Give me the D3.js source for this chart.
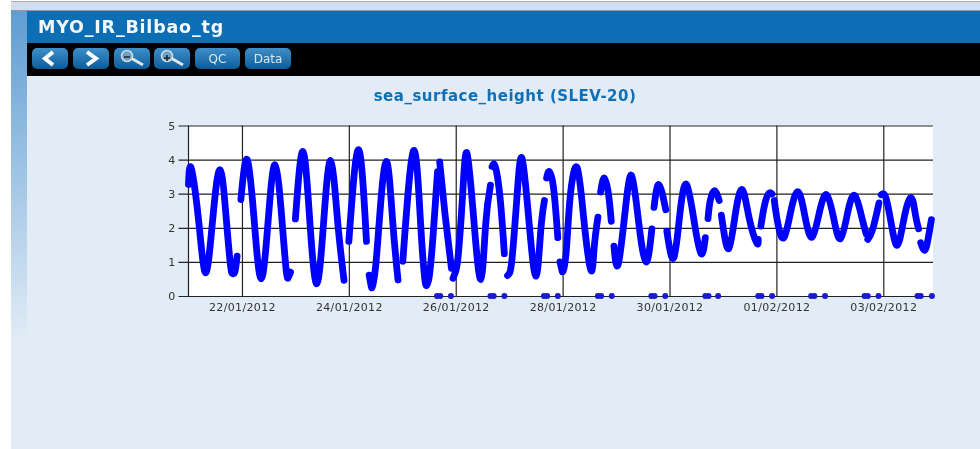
<!DOCTYPE html>
<html>
<head>
<meta charset="utf-8">
<script src="https://d3js.org/d3.v7.min.js"></script>
<style>
  html, body { margin: 0; padding: 0; background: #fff; overflow: hidden; }
  svg { display: block; filter: blur(0.35px); }
  text { font-family: "DejaVu Sans", sans-serif; }
</style>
</head>
<body>
<svg id="page" width="980" height="449"></svg>
<script>
// station and chart text
const stationName = "MYO_IR_Bilbao_tg";
const chartTitle = "sea_surface_height (SLEV-20)";
const buttonLabels = ["<", ">", "-", "+", "QC", "Data"];

// days since 21/01/2012 00:00, one array per unbroken piece of the record
const tideDays = [
  [0.0, 0.05, 0.19, 0.32, 0.45, 0.59, 0.71, 0.79, 0.83, 0.87, 0.91],
  [0.98, 1.10, 1.23, 1.36, 1.49, 1.62, 1.75, 1.83, 1.87, 1.91],
  [2.0, 2.14, 2.27, 2.40, 2.53, 2.66, 2.79, 2.91],
  [3.0, 3.18, 3.33],
  [3.38, 3.41, 3.44, 3.5, 3.57, 3.70, 3.82, 3.92],
  [4.01, 4.21, 4.34, 4.42, 4.46, 4.51, 4.58, 4.66],
  [4.70, 4.80, 4.92],
  [4.95, 5.0, 5.05, 5.13, 5.21, 5.34, 5.47, 5.56, 5.65],
  [5.68, 5.74, 5.83, 5.91],
  [5.97, 6.01, 6.06, 6.15, 6.24, 6.37, 6.5, 6.59, 6.66],
  [6.70, 6.75, 6.83, 6.91],
  [6.95, 6.98, 7.01, 7.07, 7.14, 7.27, 7.4, 7.53, 7.59, 7.66],
  [7.71, 7.78, 7.86, 7.91],
  [7.96, 8.04, 8.17, 8.29, 8.42, 8.56, 8.67],
  [8.71, 8.80, 8.93],
  [8.95, 9.08, 9.2, 9.32, 9.46, 9.59, 9.67],
  [9.72, 9.76, 9.84, 9.93],
  [9.97, 10.01, 10.11, 10.23, 10.36, 10.49, 10.63, 10.66],
  [10.71, 10.78, 10.86, 10.92],
  [10.96, 11.03, 11.14, 11.27, 11.41, 11.54, 11.67, 11.81, 11.94, 12.07, 12.2, 12.34, 12.47, 12.6, 12.68],
  [12.71, 12.8, 12.92],
  [12.96, 13.04, 13.14, 13.26, 13.39, 13.52, 13.6, 13.66],
  [13.7, 13.77, 13.83, 13.9]
];
const tideLevels = [
  [3.27, 3.75, 2.2, 0.68, 2.2, 3.70, 2.2, 0.85, 0.65, 0.72, 1.17],
  [2.83, 4.0, 2.2, 0.5, 2.2, 3.85, 2.2, 0.72, 0.55, 0.7],
  [2.26, 4.24, 2.2, 0.36, 2.2, 3.97, 2.2, 0.46],
  [1.6, 4.29, 1.6],
  [0.61, 0.35, 0.27, 0.85, 2.2, 3.95, 2.2, 0.47],
  [1.02, 4.26, 2.2, 0.52, 0.32, 0.63, 1.85, 3.65],
  [3.93, 2.39, 0.81],
  [0.52, 0.73, 1.25, 3.0, 4.19, 2.2, 0.49, 2.1, 3.25],
  [3.8, 3.8, 2.88, 1.24],
  [0.6, 0.68, 1.2, 3.0, 4.04, 2.2, 0.58, 1.9, 2.8],
  [3.46, 3.65, 3.17, 1.71],
  [1.0, 0.8, 0.73, 1.35, 2.88, 3.77, 2.2, 0.75, 1.41, 2.31],
  [3.05, 3.46, 2.97, 2.19],
  [1.46, 0.93, 2.49, 3.54, 2.2, 1.0, 1.97],
  [2.6, 3.27, 2.53],
  [1.9, 1.12, 2.49, 3.27, 2.2, 1.24, 1.71],
  [2.27, 2.78, 3.09, 2.8],
  [2.37, 1.95, 1.39, 2.39, 3.12, 2.29, 1.56, 1.66],
  [2.05, 2.68, 3.01, 2.99],
  [2.8, 2.1, 1.71, 2.49, 3.05, 2.29, 1.73, 2.49, 2.97, 2.29, 1.68, 2.49, 2.94, 2.29, 1.82],
  [1.66, 1.95, 2.73],
  [2.97, 2.92, 2.2, 1.49, 2.29, 2.89, 2.39, 1.97],
  [1.56, 1.34, 1.61, 2.24]
];
// samples sitting on zero (the gaps in the curve above)
const zeroDays = [4.65, 4.71, 4.91, 5.65, 5.71, 5.91, 6.65, 6.71, 6.91, 7.66, 7.72, 7.92,
  8.66, 8.72, 8.92, 9.67, 9.73, 9.91, 10.66, 10.72, 10.92, 11.65, 11.71, 11.91,
  12.65, 12.71, 12.91, 13.64, 13.70, 13.91];

const yTicks = [0, 1, 2, 3, 4, 5];
const xTickDays = [1, 3, 5, 7, 9, 11, 13];
const domainDays = [0, 13.93];

const startTime = Date.UTC(2012, 0, 21);
const toDate = d => new Date(startTime + d * 864e5);

const svg = d3.select("#page");
const defs = svg.append("defs");

const sideGrad = defs.append("linearGradient").attr("id", "sideGrad")
  .attr("x1", 0).attr("x2", 0).attr("y1", 0).attr("y2", 1);
sideGrad.append("stop").attr("offset", "0%").attr("stop-color", "#5f9dd2");
sideGrad.append("stop").attr("offset", "100%").attr("stop-color", "#e2ecf6");

const btnGrad = defs.append("linearGradient").attr("id", "btnGrad")
  .attr("x1", 0).attr("x2", 0).attr("y1", 0).attr("y2", 1);
btnGrad.append("stop").attr("offset", "0%").attr("stop-color", "#3f8fca");
btnGrad.append("stop").attr("offset", "100%").attr("stop-color", "#0b5c98");

// page shell
svg.append("rect").attr("x", 0).attr("y", 1).attr("width", 980).attr("height", 1).attr("fill", "#a9acb0");
svg.append("rect").attr("x", 0).attr("y", 2).attr("width", 980).attr("height", 8).attr("fill", "#d2deed");
svg.append("rect").attr("x", 0).attr("y", 0).attr("width", 11).attr("height", 449).attr("fill", "#fff");
svg.append("rect").attr("x", 11).attr("y", 10).attr("width", 969).attr("height", 439).attr("fill", "#e2ecf6");
svg.append("rect").attr("x", 11).attr("y", 10).attr("width", 969).attr("height", 1).attr("fill", "#8e9aa6");
svg.append("rect").attr("x", 11).attr("y", 11).attr("width", 16).attr("height", 330).attr("fill", "url(#sideGrad)");
svg.append("rect").attr("x", 27).attr("y", 11).attr("width", 953).attr("height", 32).attr("fill", "#0c6eb4");
svg.append("rect").attr("x", 27).attr("y", 43).attr("width", 953).attr("height", 33).attr("fill", "#000");

svg.append("text").attr("x", 38).attr("y", 33)
  .attr("font-size", 17.5).attr("font-weight", "bold").attr("fill", "#f4f8fc")
  .attr("letter-spacing", 0.8)
  .text(stationName);

// toolbar buttons
const buttonBoxes = [[32, 36], [73, 36], [114, 36], [154, 36], [195, 45], [245, 46]];
const buttons = svg.selectAll("g.btn").data(buttonLabels).enter().append("g")
  .attr("class", "btn")
  .attr("transform", (d, i) => `translate(${buttonBoxes[i][0]},48)`);
buttons.append("rect")
  .attr("width", (d, i) => buttonBoxes[i][1])
  .attr("height", 21).attr("rx", 5)
  .attr("fill", "url(#btnGrad)");
buttons.filter(d => d === "QC" || d === "Data").append("text")
  .attr("x", (d, i) => (d === "QC" ? 22.5 : 23))
  .attr("y", 15).attr("text-anchor", "middle")
  .attr("font-size", 12).attr("fill", "#d8e8f4")
  .text(d => d);
buttons.filter(d => d === "<").append("path")
  .attr("d", "M21,4 L13,10.5 L21,17").attr("fill", "none")
  .attr("stroke", "#fff").attr("stroke-width", 4);
buttons.filter(d => d === ">").append("path")
  .attr("d", "M14,4 L23,10.5 L14,17").attr("fill", "none")
  .attr("stroke", "#fff").attr("stroke-width", 4);
const lens = buttons.filter(d => d === "-" || d === "+");
lens.append("line").attr("x1", 17).attr("y1", 10).attr("x2", 29).attr("y2", 17)
  .attr("stroke", "#dfe6ea").attr("stroke-width", 3);
lens.append("circle").attr("cx", 13).attr("cy", 8).attr("r", 5.5)
  .attr("fill", "#6fa3c6").attr("stroke", "#cfdde6").attr("stroke-width", 1.5);
lens.append("path").attr("d", d => d === "-" ? "M10,9 H16" : "M10,10 H16 M13,7 V13")
  .attr("stroke", "#222").attr("stroke-width", 1.5);

svg.append("text").attr("x", 505).attr("y", 101)
  .attr("text-anchor", "middle").attr("font-size", 15).attr("font-weight", "bold")
  .attr("letter-spacing", 0.5)
  .attr("fill", "#1170b5").text(chartTitle);

// chart
const x = d3.scaleUtc().domain(domainDays.map(toDate)).range([188.5, 933]);
const y = d3.scaleLinear().domain([0, 5]).range([296, 125.5]);

svg.append("rect").attr("x", 188).attr("y", 125.5).attr("width", 745).attr("height", 170.5).attr("fill", "#fff");

const fmt = d3.utcFormat("%d/%m/%Y");
const xAxis = svg.append("g").attr("transform", "translate(0,296)")
  .call(d3.axisBottom(x).tickValues(xTickDays.map(toDate)).tickFormat(fmt)
    .tickSize(-170.5).tickPadding(7));
const yAxis = svg.append("g").attr("transform", "translate(188.5,0)")
  .call(d3.axisLeft(y).tickValues(yTicks).tickFormat(d3.format("d"))
    .tickSizeInner(-744.5).tickSizeOuter(0).tickPadding(13));
yAxis.selectAll(".tick line").attr("x1", -10);
yAxis.select(".domain").attr("d", "M0,125.5V296");
xAxis.select(".domain").remove();
svg.selectAll(".tick line").attr("stroke", "#222").attr("stroke-width", 1.2);
yAxis.select(".domain").attr("stroke", "#222").attr("stroke-width", 1.2);
svg.selectAll(".tick text").attr("font-size", 11).attr("fill", "#333")
  .attr("letter-spacing", 0.35)
  .style("font-family", "'DejaVu Sans', sans-serif");

const line = d3.line().x(d => x(toDate(d[0]))).y(d => y(d[1])).curve(d3.curveNatural);

svg.append("g").selectAll("path").data(d3.zip(tideDays, tideLevels)).enter().append("path")
  .attr("d", d => line(d3.zip(d[0], d[1])))
  .attr("fill", "none").attr("stroke", "#0000ff").attr("stroke-width", 6.8)
  .attr("stroke-linecap", "round").attr("stroke-linejoin", "round");

svg.append("g").selectAll("circle").data(zeroDays).enter().append("circle")
  .attr("cx", d => x(toDate(d))).attr("cy", y(0)).attr("r", 3)
  .attr("fill", "#1a1ad0");
</script>
</body>
</html>
